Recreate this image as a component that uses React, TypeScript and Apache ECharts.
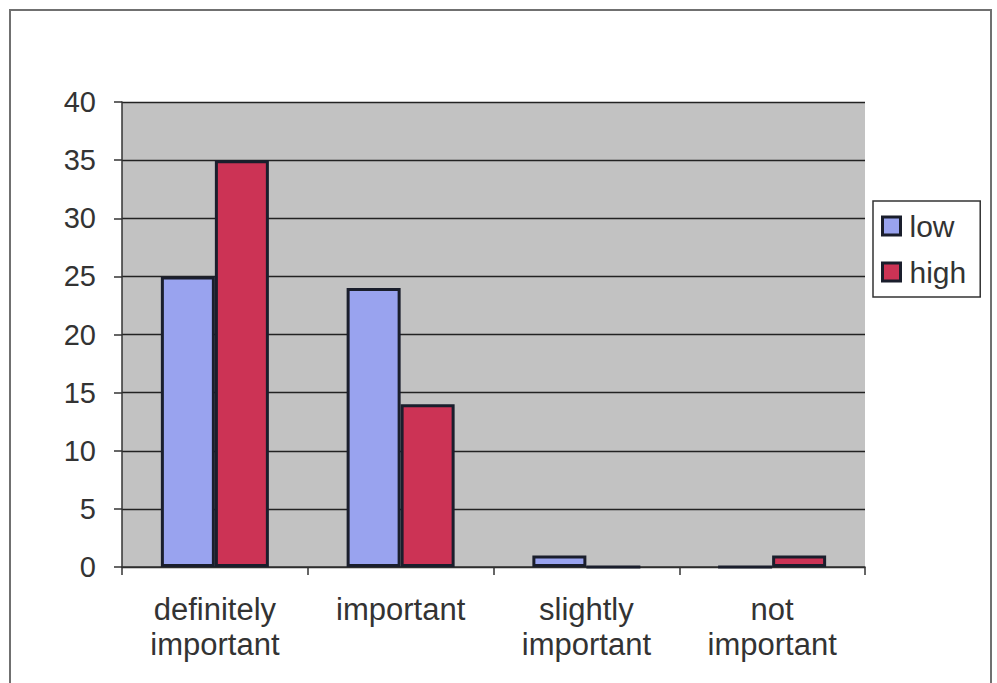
import React, { useEffect, useRef } from "react";
import * as echarts from "echarts";

// Survey responses by importance rating, split into low / high groups
const categories = [
  "definitely\nimportant",
  "important",
  "slightly\nimportant",
  "not\nimportant",
];
const lowValues = [25, 24, 1, 0];
const highValues = [35, 14, 0, 1];
const yTicks = { min: 0, max: 40, interval: 5 };

const FONT = "'Liberation Sans', Arial, sans-serif";
const TEXT = "#333333";
const EDGE = "#1a1e2c";

export default function App() {
  const ref = useRef<HTMLDivElement>(null);

  useEffect(() => {
    if (!ref.current) return;
    const chart = echarts.init(ref.current, undefined, { renderer: "svg" });
    chart.setOption({
      animation: false,
      backgroundColor: "#ffffff",
      textStyle: { fontFamily: FONT },
      graphic: [
        {
          type: "rect",
          shape: { x: 10, y: 10, width: 981, height: 690 },
          style: { fill: "none", stroke: "#707070", lineWidth: 2 },
          silent: true,
        },
      ],
      grid: {
        left: 122,
        top: 102,
        right: 132,
        bottom: 116,
        show: true,
        backgroundColor: "#c2c2c2",
        borderWidth: 0,
      },
      legend: {
        orient: "vertical",
        left: 873,
        top: 201,
        padding: [9, 14, 9, 8],
        itemWidth: 18,
        itemHeight: 18,
        itemGap: 14,
        icon: "rect",
        backgroundColor: "#ffffff",
        borderColor: "#333333",
        borderWidth: 1.5,
        itemStyle: { borderColor: EDGE, borderWidth: 3 },
        textStyle: {
          fontFamily: FONT,
          fontSize: 30,
          lineHeight: 32,
          color: TEXT,
          padding: [0, 0, 0, 4],
        },
        data: ["low", "high"],
      },
      xAxis: {
        type: "category",
        data: categories,
        axisLine: { show: true, lineStyle: { color: "#333333", width: 1.5 } },
        axisTick: {
          show: true,
          length: 8,
          interval: 0,
          lineStyle: { color: "#333333", width: 1.5 },
        },
        axisLabel: {
          interval: 0,
          margin: 25,
          fontFamily: FONT,
          fontSize: 31,
          lineHeight: 35,
          color: TEXT,
        },
      },
      yAxis: {
        type: "value",
        min: yTicks.min,
        max: yTicks.max,
        interval: yTicks.interval,
        axisLine: { show: true, lineStyle: { color: "#333333", width: 1.5 } },
        axisTick: { show: true, length: 8, lineStyle: { color: "#333333", width: 1.5 } },
        axisLabel: {
          margin: 26,
          fontFamily: FONT,
          fontSize: 29,
          color: TEXT,
        },
        splitLine: { show: true, lineStyle: { color: "#222222", width: 1.4 } },
      },
      series: [
        {
          name: "low",
          type: "bar",
          data: lowValues,
          barWidth: 54,
          barGap: "0%",
          itemStyle: { color: "#99a3ef", borderColor: EDGE, borderWidth: 3 },
        },
        {
          name: "high",
          type: "bar",
          data: highValues,
          barWidth: 54,
          barGap: "0%",
          itemStyle: { color: "#cc3355", borderColor: EDGE, borderWidth: 3 },
        },
      ],
    });
    return () => chart.dispose();
  }, []);

  return (
    <div
      ref={ref}
      style={{ position: "absolute", left: 0, top: 0, width: 997, height: 683 }}
    />
  );
}
